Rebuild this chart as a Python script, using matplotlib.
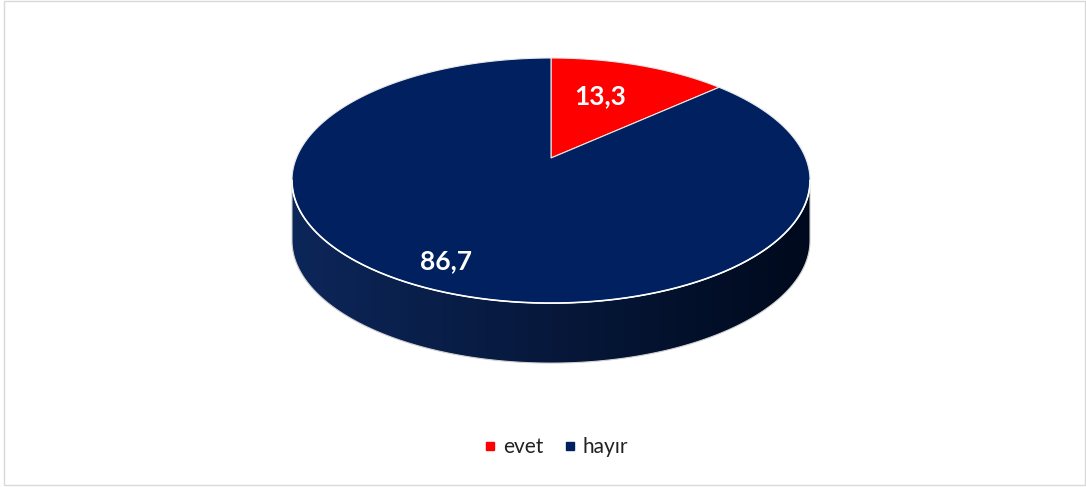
import numpy as np
import matplotlib.pyplot as plt
from matplotlib.patches import Polygon, Rectangle
from matplotlib.lines import Line2D
from matplotlib.colors import LinearSegmentedColormap, to_rgb

# data
labels = ["evet", "hayır"]
values = [13.3, 86.7]
value_text = ["13,3", "86,7"]
colors = ["#FF0000", "#002060"]

# geometry of the 3d disc, in pixels
cx, cy = 551, 158
sx, sy = 254.6, 118.4
k = 0.184          # perspective strength
depth = 60
label_r = [0.6, 0.85]
label_shift = [(-7, -3), (-3, -4)]


def proj(theta, r=1.0, dy=0.0):
    t = np.radians(theta)
    d = 1 + k * r * np.sin(t)
    x = cx + sx * r * np.cos(t) / d
    y = cy - sy * r * np.sin(t) / d + dy
    return x, y


fig = plt.figure(figsize=(10.86, 4.87), dpi=100)
ax = fig.add_axes([0, 0, 1, 1])
ax.set_xlim(0, 1086)
ax.set_ylim(487, 0)
ax.axis("off")

fracs = np.array(values) / sum(values)
starts = 90 - 360 * np.concatenate([[0], np.cumsum(fracs)[:-1]])
ends = starts - 360 * fracs

# visible front side of the disc
a_left = 180 + np.degrees(np.arcsin(k))
a_right = 360 - np.degrees(np.arcsin(k))
for i in range(len(values)):
    lo, hi = ends[i], starts[i]
    for shift in (-360, 0, 360):
        a = max(lo + shift, a_left)
        b = min(hi + shift, a_right)
        if b <= a:
            continue
        th = np.linspace(a, b, 200)
        tx, ty = proj(th)
        bx, by = proj(th[::-1], dy=depth)
        pts = np.column_stack([np.concatenate([tx, bx]), np.concatenate([ty, by])])
        poly = Polygon(pts, closed=True, facecolor="none", edgecolor="#d0d0d0", lw=0.8, zorder=2)
        ax.add_patch(poly)
        c = np.array(to_rgb(colors[i]))
        cmap = LinearSegmentedColormap.from_list("side", [c * 0.8 + 0.05, c * 0.3])
        grad = np.linspace(0, 1, 256).reshape(1, -1)
        img = ax.imshow(grad, cmap=cmap, aspect="auto", zorder=1,
                        extent=[pts[:, 0].min(), pts[:, 0].max(), pts[:, 1].max(), pts[:, 1].min()])
        img.set_clip_path(poly)

# top face
for i in range(len(values)):
    th = np.linspace(starts[i], ends[i], 300)
    tx, ty = proj(th)
    pts = np.column_stack([np.concatenate([[cx], tx]), np.concatenate([[cy], ty])])
    ax.add_patch(Polygon(pts, closed=True, facecolor=colors[i], edgecolor="#e8e8e8", lw=0.8, zorder=3))

# rim highlight
th = np.linspace(a_left, a_right, 300)
rx, ry = proj(th)
ax.plot(rx, ry, color="white", lw=1.2, zorder=4)

# data labels
for i in range(len(values)):
    mid = (starts[i] + ends[i]) / 2
    x, y = proj(mid, label_r[i])
    x += label_shift[i][0]
    y += label_shift[i][1]
    ax.text(x, y, value_text[i], ha="center", va="center", color="white",
            fontsize=19, fontweight="bold", family="Lato", zorder=5)

# chart border
ax.add_patch(Rectangle((4, 1), 1081, 484, fill=False, edgecolor="#d9d9d9", lw=1, zorder=0))

handles = [Line2D([], [], marker="s", ls="", ms=6, mfc=c, mec=c) for c in colors]
fig.legend(handles, labels, loc="center", bbox_to_anchor=(556 / 1086, 1 - 447 / 487), ncol=2,
           frameon=False, prop={"family": "Lato", "size": 15}, labelcolor="#222222",
           handletextpad=0.3, columnspacing=1.0, handlelength=0.6)

plt.savefig("out.png", dpi=100)
